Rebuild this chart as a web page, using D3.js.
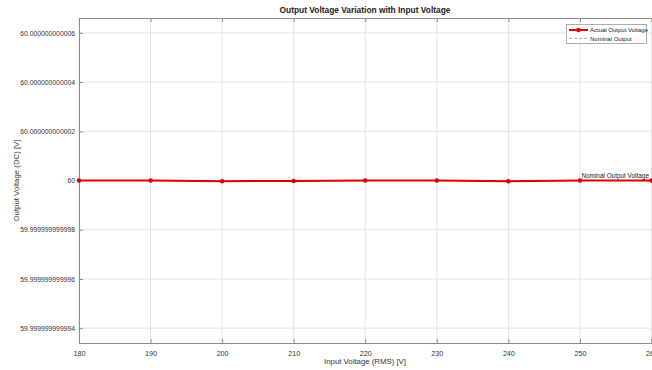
<!DOCTYPE html>
<html><head><meta charset="utf-8">
<script src="https://cdn.jsdelivr.net/npm/d3@7"></script>
<style>body{margin:0;background:#fff}svg{display:block;font-family:"Liberation Sans",Arial,sans-serif}</style>
</head><body><svg id="c" width="652" height="370"></svg>
<script>
const inputVoltage = [180, 190, 200, 210, 220, 230, 240, 250, 260];
const outputVoltage = [60, 60, 59.99999999999997, 59.99999999999998, 60, 60, 59.99999999999997, 60, 60];
const nominalVoltage = 60;
const xTicks = [180, 190, 200, 210, 220, 230, 240, 250, 260];
const yTicks = [59.999999999994, 59.999999999996, 59.999999999998, 60, 60.000000000002, 60.000000000004, 60.000000000006];
const yTickLabels = ["59.999999999994", "59.999999999996", "59.999999999998", "60", "60.000000000002", "60.000000000004", "60.000000000006"];

const svg = d3.select("#c");
const L = 79, T = 18, B = 343, R = 651.5;
const x = d3.scaleLinear().domain([180, 260]).range([L, R]);
const y = d3.scaleLinear().domain([59.9999999999934, 60.0000000000066]).range([B, T]);

// grid
const g = svg.append("g");
g.selectAll(".vg").data(xTicks).join("line")
  .attr("x1", d => x(d)).attr("x2", d => x(d)).attr("y1", T).attr("y2", B)
  .attr("stroke", "#e3e3e3").attr("stroke-width", 1);
g.selectAll(".hg").data(yTicks).join("line")
  .attr("x1", L).attr("x2", 652).attr("y1", d => y(d)).attr("y2", d => y(d))
  .attr("stroke", "#e3e3e3").attr("stroke-width", 1);

// axes
const xAxis = d3.axisBottom(x).tickValues(xTicks).tickSize(-4).tickPadding(8).tickFormat(d3.format("d"));
const xa = svg.append("g").attr("transform", `translate(0,${B})`).call(xAxis);
const xTop = d3.axisTop(x).tickValues(xTicks).tickSize(-4).tickFormat("");
const xt = svg.append("g").attr("transform", `translate(0,${T})`).call(xTop);
const yAxis = d3.axisLeft(y).tickValues(yTicks).tickSize(-4).tickPadding(4).tickFormat((d, i) => yTickLabels[i]);
const ya = svg.append("g").attr("transform", `translate(${L},0)`).call(yAxis);
[xa, xt, ya].forEach(a => {
  a.selectAll(".domain").attr("stroke", "#8c8c8c");
  a.selectAll(".tick line").attr("stroke", "#8c8c8c");
  a.selectAll("text").attr("fill", "#333").attr("font-size", 6.8);
});
xa.selectAll("text").attr("font-size", 7.2);

// nominal dashed line
svg.append("line").attr("x1", L).attr("x2", R).attr("y1", y(nominalVoltage)).attr("y2", y(nominalVoltage))
  .attr("stroke", "#999").attr("stroke-dasharray", "4,3").attr("stroke-width", 1);

// actual line
const line = d3.line().x((d, i) => x(inputVoltage[i])).y(d => y(d));
svg.append("path").datum(outputVoltage).attr("d", line)
  .attr("fill", "none").attr("stroke", "#dd0000").attr("stroke-width", 2);
svg.selectAll(".pt").data(outputVoltage).join("circle")
  .attr("cx", (d, i) => x(inputVoltage[i])).attr("cy", d => y(d)).attr("r", 2.3)
  .attr("fill", "#dd0000");

svg.append("text").attr("x", x(250) + 1.5).attr("y", y(nominalVoltage) - 3)
  .attr("font-size", 6.4).attr("fill", "#222").text("Nominal Output Voltage");

// title and labels
svg.append("text").attr("x", 365).attr("y", 13).attr("text-anchor", "middle")
  .attr("font-size", 8.4).attr("font-weight", "bold").attr("fill", "#222")
  .text("Output Voltage Variation with Input Voltage");
svg.append("text").attr("x", 365).attr("y", 364).attr("text-anchor", "middle")
  .attr("font-size", 7.8).attr("fill", "#333").text("Input Voltage (RMS) [V]");
svg.append("text").attr("transform", `translate(19,${(T + B) / 2}) rotate(-90)`).attr("text-anchor", "middle")
  .attr("font-size", 7.8).attr("fill", "#333").text("Output Voltage (DC) [V]");

// legend
const lg = svg.append("g");
lg.append("rect").attr("x", 566.5).attr("y", 24.5).attr("width", 80).attr("height", 19)
  .attr("fill", "#fff").attr("stroke", "#9a9a9a").attr("stroke-width", 0.8);
lg.append("line").attr("x1", 569).attr("x2", 588).attr("y1", 30).attr("y2", 30)
  .attr("stroke", "#dd0000").attr("stroke-width", 2);
lg.append("circle").attr("cx", 578.5).attr("cy", 30).attr("r", 2.3).attr("fill", "#dd0000");
lg.append("line").attr("x1", 569).attr("x2", 588).attr("y1", 38.5).attr("y2", 38.5)
  .attr("stroke", "#999").attr("stroke-dasharray", "3,2").attr("stroke-width", 0.8);
lg.append("text").attr("x", 590).attr("y", 32.3).attr("font-size", 6.0).attr("fill", "#222").text("Actual Output Voltage");
lg.append("text").attr("x", 590).attr("y", 40.8).attr("font-size", 6.0).attr("fill", "#222").text("Nominal Output");
</script></body></html>
